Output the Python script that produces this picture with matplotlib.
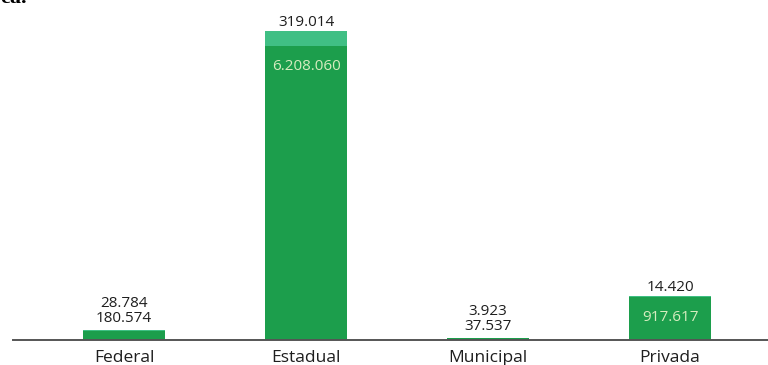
import numpy as np
import matplotlib
matplotlib.use("Agg")
import matplotlib.pyplot as plt

plt.rcParams["font.family"] = ["Open Sans", "DejaVu Sans"]

categorias = ["Federal", "Estadual", "Municipal", "Privada"]
base = [180574, 6208060, 37537, 917617]
topo = [28784, 319014, 3923, 14420]
rotulo_base = ["180.574", "6.208.060", "37.537", "917.617"]
rotulo_topo = ["28.784", "319.014", "3.923", "14.420"]

verde = "#1c9e4c"
verde_claro = "#40bf84"
texto = "#1e1e1e"

fig = plt.figure(figsize=(7.68, 3.65), dpi=100)
ax = fig.add_axes([13 / 768, 25 / 365, 755 / 768, 340 / 365])

x = np.arange(len(categorias))
ax.bar(x, base, width=0.45, color=verde, zorder=2)
ax.bar(x, topo, width=0.45, bottom=base, color=verde_claro, zorder=2)

ax.set_ylim(0, 7.18e6)
ax.set_xlim(-0.61, 3.538)

grande = 500000
for xi, b, t, lb, lt in zip(x, base, topo, rotulo_base, rotulo_topo):
    total = b + t
    if b > grande:
        ax.annotate(lb, (xi, b), xytext=(0, -15), textcoords="offset points",
                    ha="center", va="center", fontsize=11, color="#d6ecbf")
        ax.annotate(lt, (xi, total), xytext=(0, 6), textcoords="offset points",
                    ha="center", va="center", fontsize=11, color=texto)
    else:
        ax.annotate(lb, (xi, total), xytext=(0, 8), textcoords="offset points",
                    ha="center", va="center", fontsize=11, color=texto)
        ax.annotate(lt, (xi, total), xytext=(0, 19), textcoords="offset points",
                    ha="center", va="center", fontsize=11, color=texto)

ax.set_xticks(x)
ax.set_xticklabels(categorias, fontsize=12.5, color=texto)
ax.tick_params(axis="x", length=0, pad=7)
ax.set_yticks([])
for lado in ["top", "right", "left"]:
    ax.spines[lado].set_visible(False)
ax.spines["bottom"].set_color("#555555")
ax.spines["bottom"].set_linewidth(1.4)
ax.spines["bottom"].set_zorder(3)

# titulo cortado no topo da imagem original
fig.text(0.0, 1 - 3 / 365, "ea.", ha="left", va="baseline",
         fontsize=16, fontweight="bold", family="Liberation Serif", color="black")

fig.savefig("out.png", dpi=100)
